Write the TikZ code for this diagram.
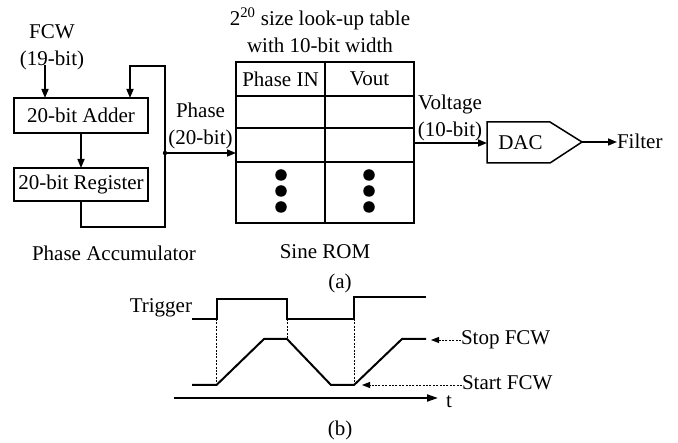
\documentclass[tikz,border=0pt]{standalone}
\usepackage{fontspec}
\setmainfont{Liberation Serif}
\usetikzlibrary{arrows.meta}
\tikzset{
  every node/.style={inner sep=0pt,outer sep=0pt,font=\fontsize{21}{27}\selectfont,align=center,text=black},
  wire/.style={line width=1.6pt,line join=miter},
  heavy/.style={line width=2pt},
  arr/.style={-{Triangle[length=9pt,width=7pt]}},
  dotted line/.style={line width=0.9pt,dash pattern=on 2pt off 1.4pt},
  blockbox/.style={draw,line width=1.5pt,minimum width=134pt},
  cell/.style={draw,line width=1.5pt,minimum width=89pt},
  bigdot/.style={circle,fill=black,minimum size=11.5pt},
}
\begin{document}
\begin{tikzpicture}[x=1pt,y=-1pt]
\useasboundingbox (0,0) rectangle (678,443);
% left part
\node (fcw) at (52,47) {FCW\\(19-bit)};
\node[blockbox,minimum height=35pt] (adder) at (81,115.5) {20-bit Adder};
\node[blockbox,minimum height=33pt] (reg) at (81,184.5) {20-bit Register};
\coordinate (fcwstart) at (45,65);
\coordinate (fcwend) at (45,98);
\draw[wire,arr] (fcwstart) -- (fcwend);
\draw[wire,arr] (adder.south) -- (reg.north);
\coordinate (j) at (165,153);
\coordinate (fbin) at (130,98);
\draw[wire,arr] (reg.south) -- ++(0,26) -| (j) |- (130,66) -- (fbin);
\fill (j) circle (2.2pt);
\node at (114,253) {Phase Accumulator};
\node (phase) at (200.5,126) {Phase\\(20-bit)};
% ROM
\node at (320,30) {2\textsuperscript{20} size look-up table\\with 10-bit width};
\node[cell,minimum height=34pt] (h1) at (280.5,79) {Phase IN};
\node[cell,minimum height=34pt] (h2) at (369.5,79) {Vout};
\node[cell,minimum height=32pt] (a1) at (280.5,112) {};
\node[cell,minimum height=32pt] (a2) at (369.5,112) {};
\node[cell,minimum height=34pt] (b1) at (280.5,145) {};
\node[cell,minimum height=34pt] (b2) at (369.5,145) {};
\node[cell,minimum height=61pt] (c1) at (280.5,192.5) {};
\node[cell,minimum height=61pt] (c2) at (369.5,192.5) {};
\draw[heavy] (h1.south west) -- (h2.south east);
\foreach \n/\y in {1/175,2/191,3/207}{
  \node[bigdot] (dl\n) at (281,\y) {};
  \node[bigdot] (dr\n) at (369,\y) {};
}
\node at (325,252) {Sine ROM};
\draw[wire,arr] (j) -- (j -| h1.west);
% DAC
\coordinate (vout) at (414,143);
\coordinate (d1) at (487,122);
\coordinate (d2) at (550,122);
\coordinate (dtip) at (582,142);
\coordinate (d3) at (550,163);
\coordinate (d4) at (487,163);
\draw[line width=1.5pt] (d1) -- (d2) -- (dtip) -- (d3) -- (d4) -- cycle;
\node (dac) at (520.5,143) {DAC};
\node (volt) at (450,118) {Voltage\\(10-bit)};
\draw[wire,arr] (vout) -- (vout -| d1);
\node[anchor=west] (filter) at (617,141) {Filter};
\draw[wire,arr] (dtip) -- (dtip -| filter.west);
\node at (340,283) {(a)};
% timing
\node[anchor=east] (trig) at (192,308) {Trigger};
\coordinate (t0) at (192,319);
\coordinate (t1) at (216.5,319);
\coordinate (t2) at (216.5,299);
\coordinate (t3) at (287,299);
\coordinate (t4) at (287,319);
\coordinate (t5) at (354,319);
\coordinate (t6) at (354,297);
\coordinate (t7) at (426,297);
\draw[heavy] (t0) -- (t1) -- (t2) -- (t3) -- (t4) -- (t5) -- (t6) -- (t7);
\coordinate (f0) at (192,385);
\coordinate (f1) at (216.5,385);
\coordinate (f2) at (264,339);
\coordinate (f3) at (287,339);
\coordinate (f4) at (331,385);
\coordinate (f5) at (354,385);
\coordinate (f6) at (402,339);
\coordinate (f7) at (426,339);
\draw[heavy] (f0) -- (f1) -- (f2) -- (f3) -- (f4) -- (f5) -- (f6) -- (f7);
\draw[dotted line] (t1) -- (f1);
\draw[dotted line] (t4) -- (f3);
\draw[dotted line] (t5) -- (f5);
\node[anchor=west] (stop) at (461,340) {Stop FCW};
\node[anchor=west] (start) at (462,383) {Start FCW};
\coordinate (stopend) at (431,340);
\coordinate (startend) at (362,385);
\draw[dotted line,-{Triangle[length=8pt,width=6pt]}] (stop.west |- stopend) -- (stopend);
\draw[dotted line,-{Triangle[length=8pt,width=6pt]}] (start.west |- startend) -- (startend);
\coordinate (axis0) at (174,398);
\coordinate (axis1) at (438,398);
\draw[heavy,-{Triangle[length=11pt,width=7pt]}] (axis0) -- (axis1);
\node (tlabel) at (449,402) {t};
\node at (340,430) {(b)};
\end{tikzpicture}
\end{document}
